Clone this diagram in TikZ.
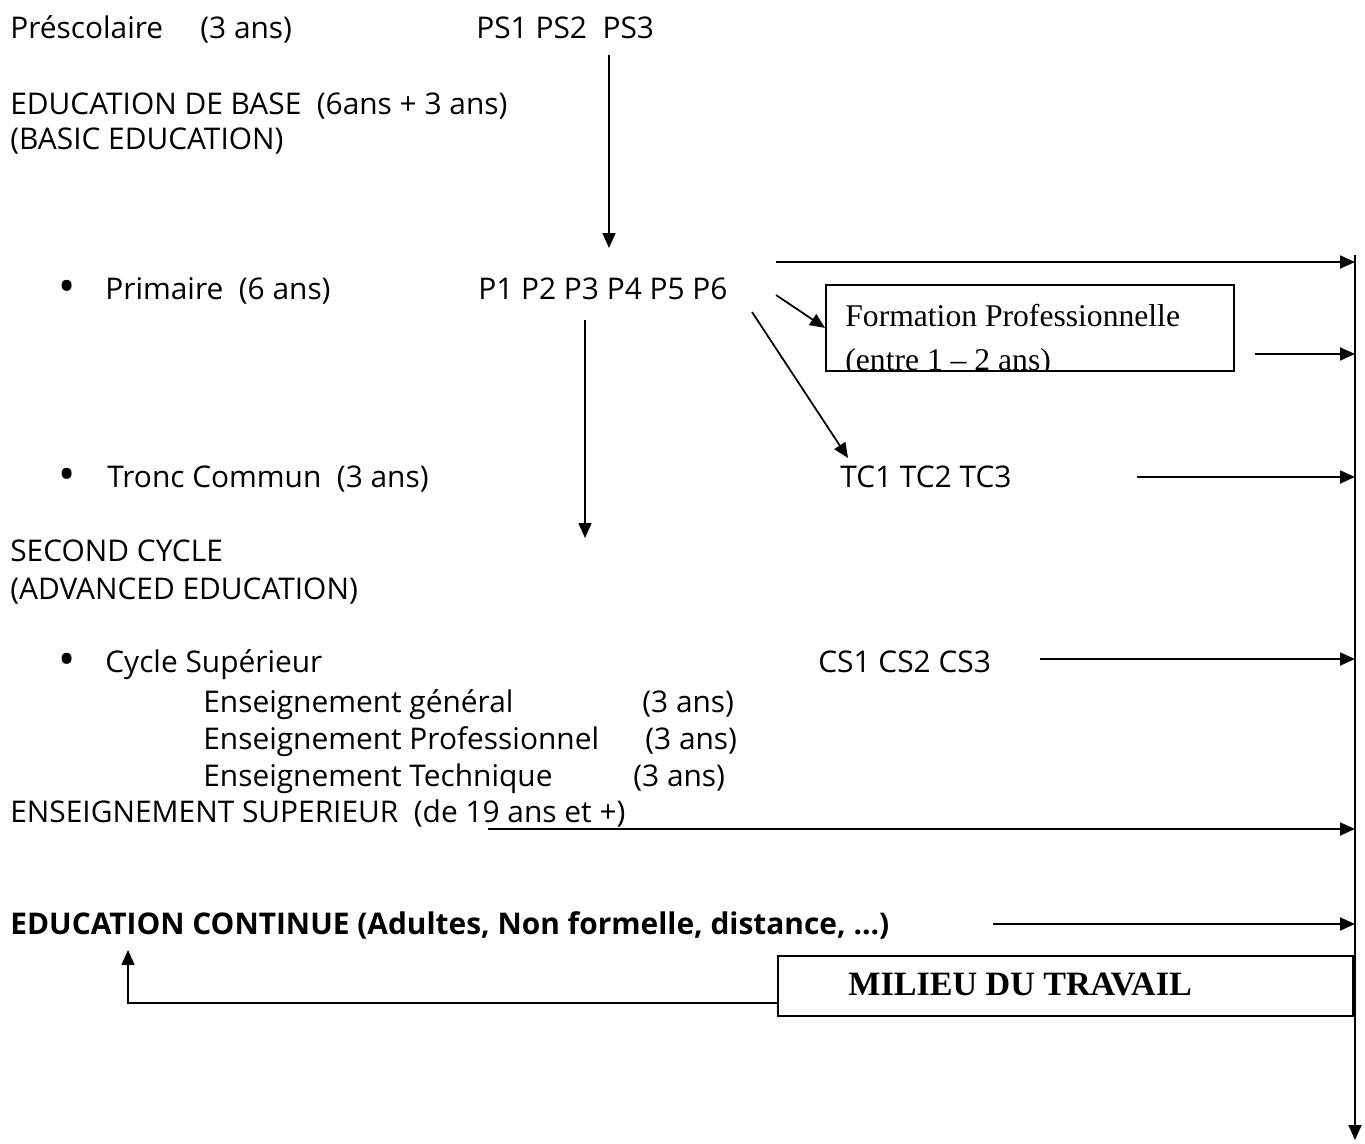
\documentclass[tikz,border=0pt]{standalone}
\usepackage{fontspec}
\setmainfont{Open Sans}
\newfontfamily\serifrm{Liberation Serif}
\usetikzlibrary{arrows.meta}

\begin{document}
\begin{tikzpicture}[x=0.02cm,y=-0.02cm,
        lbl/.style={anchor=base west, inner sep=0pt, font=\fontsize{17}{20}\selectfont},
        puce/.style={anchor=base west, inner sep=0pt, font=\fontsize{26}{20}\selectfont},
        arr/.style={-{Triangle[length=0.3cm,width=0.26cm]}, line width=1pt},
        boxe/.style={draw, line width=1pt, rectangle, inner sep=0pt, anchor=north west}]
    \useasboundingbox (0,0) rectangle (1365,1143);

    % niveaux
    \node[lbl] (presco) at (10,38) {Préscolaire};
    \node[lbl] (prescoa) at (200,38) {(3 ans)};
    \node[lbl] (ps) at (476,38) {PS1 PS2\ \ PS3};
    \node[lbl] (base) at (10,114) {EDUCATION DE BASE\ \ (6ans + 3 ans)};
    \node[lbl] (basic) at (10,149) {(BASIC EDUCATION)};
    \node[puce] (bul1) at (58,302) {\textbullet};
    \node[lbl] (prim) at (105,299) {Primaire\ \ (6 ans)};
    \node[lbl] (p) at (478,299) {P1 P2 P3 P4 P5 P6};
    \node[puce] (bul2) at (58,490) {\textbullet};
    \node[lbl] (tronc) at (107,487) {Tronc Commun\ \ (3 ans)};
    \node[lbl] (tc) at (840,487) {TC1 TC2 TC3};
    \node[lbl] (second) at (10,561) {SECOND CYCLE};
    \node[lbl] (adv) at (10,599) {(ADVANCED EDUCATION)};
    \node[puce] (bul3) at (58,675) {\textbullet};
    \node[lbl] (cycle) at (105,672) {Cycle Supérieur};
    \node[lbl] (cs) at (818,672) {CS1 CS2 CS3};
    \node[lbl] (gen) at (203,712) {Enseignement général};
    \node[lbl] (gena) at (642,712) {(3 ans)};
    \node[lbl] (pro) at (203,749) {Enseignement Professionnel};
    \node[lbl] (proa) at (645,749) {(3 ans)};
    \node[lbl] (tech) at (203,786) {Enseignement Technique};
    \node[lbl] (techa) at (633,786) {(3 ans)};
    \node[lbl] (sup) at (10,822) {ENSEIGNEMENT SUPERIEUR\ \ (de 19 ans et +)};
    \node[lbl, font=\fontsize{17}{20}\selectfont\bfseries] (cont) at (10,934)
        {EDUCATION CONTINUE (Adultes, Non formelle, distance, …)};

    % boites
    \node[boxe, minimum width=8.16cm, minimum height=1.72cm] (fp) at (825,284) {};
    \begin{scope}
        \clip (fp.south west) rectangle (fp.north east);
        \node[lbl, font=\serifrm\fontsize{18}{21}\selectfont] (fpt) at (845,326) {Formation Professionnelle};
        \node[lbl, font=\serifrm\fontsize{18}{21}\selectfont] (fpd) at (845,370) {(entre 1 \textendash{} 2 ans)};
    \end{scope}
    \node[boxe, minimum width=11.5cm, minimum height=1.2cm] (mt) at (777,955) {};
    \node[lbl, font=\serifrm\fontsize{19.4}{22}\selectfont\bfseries] (mtt) at (848,995) {MILIEU DU TRAVAIL};

    % points des fleches
    \coordinate (bus) at (1355,255);
    \coordinate (busend) at (1355,1140);
    \coordinate (psd) at (609,55);
    \coordinate (psf) at (609,248);
    \coordinate (pd) at (585,320);
    \coordinate (pf) at (585,538);
    \coordinate (p6a) at (776,262);
    \coordinate (p6b) at (776,295);
    \coordinate (p6c) at (752,312);
    \coordinate (tcf) at (848,458);
    \coordinate (fpo) at (1255,354);
    \coordinate (tco) at (1137,477);
    \coordinate (cso) at (1040,659);
    \coordinate (supo) at (488,829);
    \coordinate (conto) at (993,924);
    \coordinate (mto) at (777,1003);
    \coordinate (contin) at (128,950);

    \draw[arr] (bus) -- (busend);
    \draw[arr] (psd) -- (psf);
    \draw[arr] (pd) -- (pf);
    \draw[arr] (p6a) -- (p6a -| bus);
    \draw[arr] (p6b) -- (fp.west);
    \draw[arr] (p6c) -- (tcf);
    \draw[arr] (fpo) -- (fpo -| bus);
    \draw[arr] (tco) -- (tco -| bus);
    \draw[arr] (cso) -- (cso -| bus);
    \draw[arr] (supo) -- (supo -| bus);
    \draw[arr] (conto) -- (conto -| bus);
    \draw[arr] (mto) -| (contin);
\end{tikzpicture}
\end{document}
